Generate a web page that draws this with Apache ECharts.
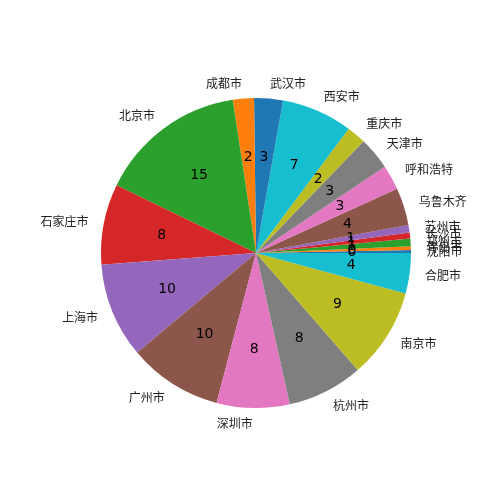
<!DOCTYPE html>
<html>
<head>
<meta charset="utf-8">
<script src="https://cdn.jsdelivr.net/npm/echarts@6/dist/echarts.min.js"></script>
<style>html,body{margin:0;padding:0;background:#fff;}#chart{width:500px;height:500px;}</style>
</head>
<body>
<div id="chart"></div>
<script>
const categories = ["沈阳市","青岛市","郑州市","长沙市","苏州市","乌鲁木齐","呼和浩特","天津市","重庆市","西安市","武汉市","成都市","北京市","石家庄市","上海市","广州市","深圳市","杭州市","南京市","合肥市"];
const values = [0.3,0.4,0.8,0.6,0.8,3.9,2.6,3.4,2.0,7.4,3.0,2.2,15.4,8.4,9.9,9.8,7.6,7.9,9.4,4.2];
const colors = ["#1f77b4","#ff7f0e","#2ca02c","#d62728","#9467bd","#8c564b","#e377c2","#7f7f7f","#bcbd22","#17becf"];

const R = 155;
const center = [256, 253];
const data = categories.map((n, i) => ({name: n, value: values[i]}));
const colored = data.map((d, i) => ({...d, itemStyle: {color: colors[i % colors.length]}}));
const clear = data.map(d => ({...d, itemStyle: {color: 'rgba(0,0,0,0)'}}));

const chart = echarts.init(document.getElementById('chart'), null, {renderer: 'canvas'});
chart.setOption({
  animation: false,
  backgroundColor: '#fff',
  series: [
    {
      type: 'pie', silent: true, center: center, radius: R,
      startAngle: 0, clockwise: false, avoidLabelOverlap: false,
      itemStyle: {borderWidth: 0},
      label: {show: false}, labelLine: {show: false},
      emphasis: {disabled: true},
      data: colored
    },
    {
      type: 'pie', silent: true, center: center, radius: R * 1.2,
      startAngle: 0, clockwise: false, avoidLabelOverlap: false,
      itemStyle: {borderWidth: 0},
      labelLayout: {hideOverlap: false},
      label: {
        show: true, position: 'inside', color: '#000',
        fontFamily: 'DejaVu Sans', fontSize: 14,
        formatter: p => String(Math.round(p.value))
      },
      labelLine: {show: false},
      emphasis: {disabled: true},
      data: clear
    },
    {
      type: 'pie', silent: true, center: center, radius: R,
      startAngle: 0, clockwise: false, avoidLabelOverlap: false,
      itemStyle: {borderWidth: 0},
      labelLayout: {hideOverlap: false},
      label: {
        show: true, position: 'outside', color: '#222',
        fontFamily: 'Noto Sans CJK SC', fontSize: 12,
        distanceToLabelLine: 0,
        formatter: p => p.name
      },
      labelLine: {show: false, length: R * 0.1, length2: 0},
      emphasis: {disabled: true},
      data: clear
    }
  ]
});
</script>
</body>
</html>
